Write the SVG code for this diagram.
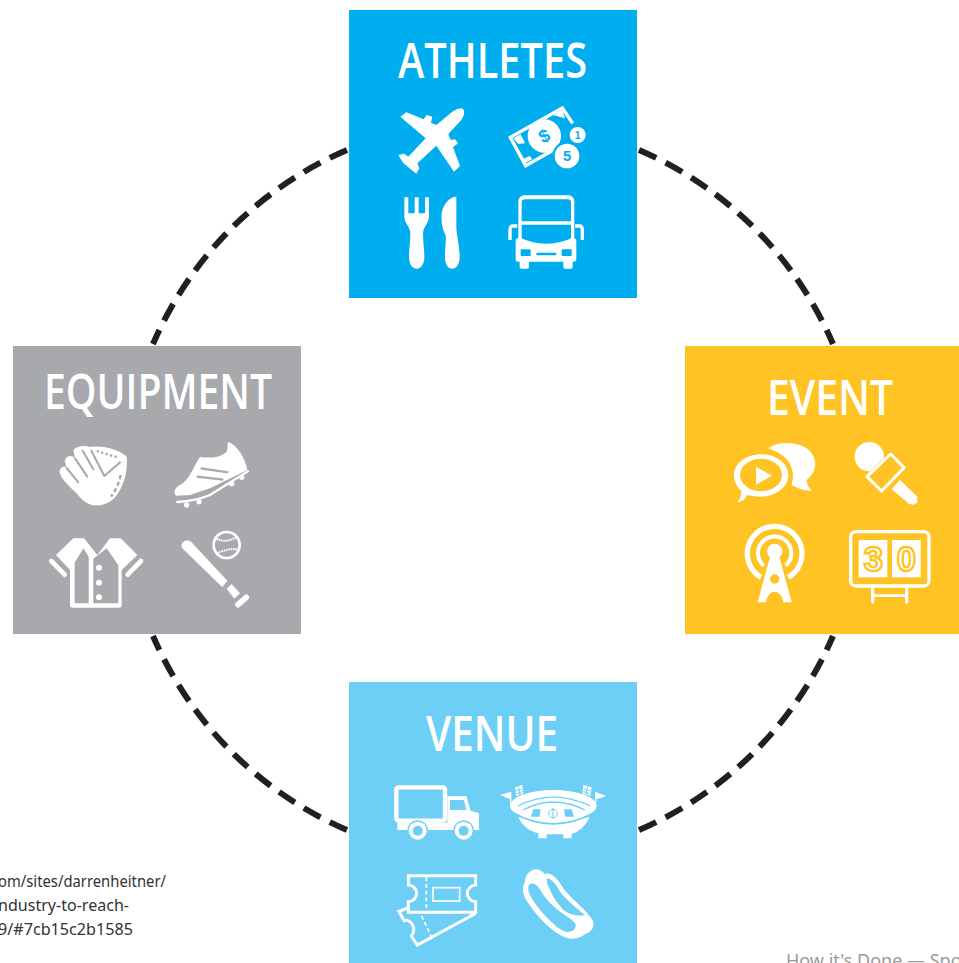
<svg xmlns="http://www.w3.org/2000/svg" width="959" height="963" viewBox="0 0 959 963">
<style>
.t{font-family:"Open Sans","Liberation Sans",sans-serif;font-size:48px;font-weight:600;fill:#fff}
.w{fill:#fff}
.sw{fill:none;stroke:#fff}
.link{fill:none;stroke:#231F20;stroke-width:6;stroke-dasharray:19 10.5}
.note{font-family:"Noto Sans","Liberation Sans",sans-serif;font-size:15.5px;fill:#333}
.b{fill:#00AEEF}.y{fill:#FFC423}.ys{fill:none;stroke:#FFC423}
.g{fill:#A7A9AC}.gs{fill:none;stroke:#A7A9AC}
.l{fill:#6DCFF6}.ls{fill:none;stroke:#6DCFF6}
.d{font-family:"Liberation Sans",sans-serif;font-weight:700;text-anchor:middle}
</style>
<rect width="959" height="963" fill="#fff"/>
<g id="connectors">
<path class="link" d="M347 150A370 370 0 0 0 153 344"/>
<path class="link" d="M639 150A370 370 0 0 1 833 344"/>
<path class="link" d="M639 830A370 370 0 0 0 833 636"/>
<path class="link" d="M347 830A370 370 0 0 1 153 636"/>
</g>
<g id="athletes">
<rect x="349" y="10" width="288" height="288" class="b"/>
<text class="t" x="398" y="78" textLength="189" lengthAdjust="spacingAndGlyphs">ATHLETES</text>
<g transform="translate(349 0) scale(.33333)">
<path class="w" d="M338 325C350 328 347 348 335 362L298 402L305 420L318 418L327 430L312 442L333 498L315 515L262 437L205 490L211 505L202 521L178 502L162 488L148 465L165 461L178 470L230 415L154 350L172 337L224 358L233 345L250 350L246 368L262 375L310 335Q325 325 338 325Z"/>
<path class="sw" stroke-width="10" d="M671 370L640 324L484 412L530 497L640 435"/>
<path class="w" d="M493 415L515 403L528 430L508 432ZM528 490L550 477L542 468L522 477ZM612 345L640 330L648 355Z"/>
<circle class="w" cx="586" cy="408" r="50"/>
<text class="d" style="fill:#00AEEF" font-size="54" x="586" y="426" transform="rotate(-28 586 408)">$</text>
<circle class="b" cx="654" cy="468" r="44"/>
<circle class="w" cx="654" cy="468" r="37"/>
<text class="d" style="fill:#00AEEF" font-size="44" x="654" y="484">5</text>
<circle class="w" cx="686" cy="405" r="24"/>
<text class="d" style="fill:#00AEEF" font-size="32" x="686" y="416">1</text>
<path class="w" d="M166 592H178V640H197V592H209V640H228V592H240V650C240 670 222 680 222 700C222 725 226 750 226 770C226 795 214 806 203 806C192 806 180 795 180 770C180 750 184 725 184 700C184 680 166 670 166 650Z"/>
<path class="w" d="M322 590V680C322 700 332 740 332 770C332 795 320 806 310 806C298 806 288 795 288 770C288 745 292 720 290 705C280 690 276 660 278 640C282 615 300 590 322 590Z"/>
<rect class="w" x="508" y="586" width="168" height="150" rx="18"/>
<rect class="w" x="500" y="715" width="182" height="70" rx="8"/>
<rect class="w" x="512" y="780" width="28" height="26" rx="5"/>
<rect class="w" x="643" y="780" width="28" height="26" rx="5"/>
<path class="b" d="M518 606Q518 598 528 598H656Q666 598 666 606V664H518Z"/>
<path class="b" d="M518 674H666V715Q640 730 592 731Q545 730 518 715Z"/>
<rect class="b" x="515" y="748" width="30" height="20" rx="2"/>
<rect class="b" x="638" y="748" width="30" height="20" rx="2"/>
<rect class="b" x="562" y="758" width="60" height="8" rx="3"/>
<path class="sw" stroke-width="10" d="M505 678H492Q483 678 483 690V720M678 678H691Q700 678 700 690V720"/>
</g>
</g>
<g id="event">
<rect x="685" y="346" width="274" height="288" class="y"/>
<text class="t" x="767" y="415" textLength="126" lengthAdjust="spacingAndGlyphs">EVENT</text>
<g transform="translate(680 340) scale(.33333)">
<path class="w" d="M265 325C300 300 370 305 395 340C415 370 405 400 380 420C380 435 388 445 396 452C375 455 355 445 335 435C345 400 340 350 265 325Z"/>
<path class="w" d="M162 405C162 370 200 343 243 343C288 343 325 370 325 405C325 442 285 470 243 470C225 470 212 466 200 466C195 478 185 486 172 487C180 478 184 468 184 452C170 440 162 424 162 405Z"/>
<ellipse class="y" cx="243" cy="405" rx="63" ry="49"/>
<path class="w" d="M228 380L276 407L228 434Z"/>
<circle class="w" cx="568" cy="350" r="44"/>
<path class="y" d="M632 335L680 383L605 462L552 410Z"/>
<path class="sw" stroke-width="9" stroke-linejoin="round" d="M632 342L672 383L605 453L561 410Z"/>
<path class="w" d="M660 420L712 470L712 488L700 494L688 492L635 448Z"/>
<path class="sw" stroke-width="16" d="M243 712A82 82 0 1 1 325 712"/>
<path class="sw" stroke-width="12" d="M251 677A50 50 0 1 1 317 677"/>
<circle class="w" cx="284" cy="634" r="23"/>
<path class="w" d="M270 650H298L335 787H310C308 770 298 755 284 755C270 755 260 770 258 787H233Z"/>
<circle class="y" cx="284" cy="717" r="14"/>
<rect class="sw" stroke-width="10" x="512" y="575" width="235" height="163" rx="16"/>
<rect class="w" x="536" y="600" width="86" height="112"/>
<rect class="w" x="636" y="600" width="86" height="112"/>
<text class="d w" stroke="#FFC423" stroke-width="7" font-size="104" x="580" y="692">3</text>
<text class="d w" stroke="#FFC423" stroke-width="7" font-size="104" x="679" y="692">0</text>
<path class="sw" stroke-width="10" stroke-linecap="round" d="M578 738V786M680 738V786"/>
<path class="sw" stroke-width="8" d="M578 767H680"/>
</g>
</g>
<g id="equipment">
<rect x="13" y="346" width="288" height="288" class="g"/>
<text class="t" x="44" y="409" textLength="228" lengthAdjust="spacingAndGlyphs">EQUIPMENT</text>
<g transform="translate(10 340) scale(.33333)">
<path class="w" d="M148 395C150 380 165 376 170 384L164 362C170 345 186 345 195 355L190 330C200 318 225 315 240 321C280 315 330 330 350 350C355 400 335 470 290 490C255 505 225 495 200 460C175 435 155 420 148 395Z"/>
<path class="gs" stroke-width="6" stroke-linecap="round" d="M170 384L205 427M195 355L232 410M218 332L250 388"/>
<path class="gs" stroke-width="6" stroke-linejoin="round" d="M243 330L283 408L332 365"/>
<path class="gs" stroke-width="7" stroke-dasharray="7 7" d="M260 333L322 352"/>
<path class="gs" stroke-width="7" stroke-dasharray="13 8" d="M332 405Q325 440 303 470"/>
<path class="w" d="M655 305C680 315 705 350 712 390L600 445L540 465L500 467C488 460 492 445 510 435C540 420 555 370 570 350C590 355 630 355 650 335C655 325 650 315 655 305Z"/>
<path class="gs" stroke-width="7" d="M572 385L655 397M560 410L640 419"/>
<path class="sw" stroke-width="7" stroke-linecap="round" d="M502 486Q560 482 600 465L714 394"/>
<circle class="w" cx="530" cy="495" r="8"/><circle class="w" cx="567" cy="485" r="8"/><circle class="w" cx="665" cy="431" r="8"/><circle class="w" cx="695" cy="412" r="8"/>
<path class="w" d="M190 595H222L262 645L300 595H332L382 645L335 690V795Q335 803 327 803H188Q180 803 180 795V690L138 645Z"/>
<path class="g" d="M194 668L220 625L236 650V790H194Z"/>
<path class="g" d="M250 656L290 625L325 676V790H250Z"/>
<circle class="w" cx="267" cy="683" r="9"/><circle class="w" cx="267" cy="728" r="9"/><circle class="w" cx="267" cy="772" r="9"/>
<path class="sw" stroke-width="14" stroke-linecap="round" d="M124 663L164 704M393 663L353 704"/>
<path class="w" d="M517 625C508 610 525 595 543 605L652 722L637 742Z"/>
<path class="w" d="M650 746L665 732L690 760L673 776Z"/>
<path class="sw" stroke-width="17" stroke-linecap="round" d="M684 794L709 772"/>
<circle class="sw" stroke-width="8" cx="650" cy="615" r="39"/>
<path class="sw" stroke-width="6" stroke-dasharray="5 2" d="M620 597Q650 610 682 590M622 640Q650 625 682 628"/>
</g>
</g>
<g id="venue">
<rect x="349" y="682" width="288" height="281" class="l"/>
<text class="t" x="426" y="751" textLength="132" lengthAdjust="spacingAndGlyphs">VENUE</text>
<g transform="translate(349 680) scale(.33333)">
<rect class="sw" stroke-width="13" x="142" y="322" width="146" height="100" rx="6"/>
<path class="w" d="M145 428H295V348H352L365 392L390 400V450H145Z"/>
<path class="l" d="M303 360H345L352 390H303Z"/>
<circle class="l" cx="206" cy="452" r="31"/><circle class="l" cx="344" cy="452" r="31"/>
<circle class="w" cx="206" cy="452" r="27"/><circle class="w" cx="344" cy="452" r="27"/>
<circle class="l" cx="206" cy="452" r="15"/><circle class="l" cx="344" cy="452" r="15"/>
<path class="w" d="M453 345L487 335V368H483V357ZM772 348L738 335V368H742V358Z"/>
<path class="w" d="M498 322L520 315L523 340L502 348ZM728 322L703 315L700 340L724 348Z"/>
<path class="ls" stroke-width="3" d="M500 333L520 327M503 342L522 334M725 333L705 327M722 342L703 334M508 320L513 344M716 320L711 344"/>
<ellipse class="w" cx="613" cy="377" rx="130" ry="47"/>
<path class="w" d="M508 412C520 440 545 455 568 460V475H593V463H643V475H668V462C690 455 708 440 722 412Z"/>
<path class="ls" stroke-width="5" d="M492 398Q612 465 735 398"/>
<path class="ls" stroke-width="4" d="M506 378Q612 325 724 378"/>
<path class="ls" stroke-width="4" d="M522 390Q612 342 708 390"/>
<path class="l" d="M553 388H575L572 410H546ZM645 388H668L675 410H648Z"/>
<path class="ls" stroke-width="3" d="M612 384V416"/>
<circle class="ls" stroke-width="3" cx="612" cy="401" r="13"/>
<path class="sw" stroke-width="9" d="M178 587H380V615A25 25 0 0 0 380 665V697H178V665A25 25 0 0 0 178 615Z"/>
<path class="sw" stroke-width="9" d="M178 684L150 694L165 722C185 715 205 745 187 768L205 795L380 700"/>
<path class="sw" stroke-width="5" stroke-dasharray="12 8" d="M232 592V695M218 708L246 768"/>
<rect class="sw" stroke-width="5" x="252" y="623" width="80" height="40"/>
<g transform="translate(498 540)">
<path class="w" d="M60 28C75 25 85 38 90 42C110 35 130 60 145 85C165 115 200 135 225 170C245 190 235 215 210 222C195 235 175 238 160 235C120 225 70 175 40 130C25 110 18 85 30 65C30 50 40 32 60 28Z"/>
<path class="l" d="M45 72C60 65 75 85 85 105C100 125 125 150 150 165C170 180 190 190 180 205C170 220 150 220 125 200C90 170 60 135 45 105C38 90 38 78 45 72Z"/>
<path class="l" d="M95 55C110 55 125 75 135 95C155 120 185 145 210 165C190 170 165 165 145 150C130 130 115 115 108 95C100 80 95 70 95 55Z"/>
</g>
</g>
</g>
<g id="notes">
<text class="note" x="-2" y="887" textLength="168" lengthAdjust="spacingAndGlyphs">om/sites/darrenheitner/</text>
<text class="note" x="-2" y="911" textLength="131" lengthAdjust="spacingAndGlyphs">ndustry-to-reach-</text>
<text class="note" x="-2" y="935" textLength="135" lengthAdjust="spacingAndGlyphs">9/#7cb15c2b1585</text>
<text x="786" y="967" font-family="Noto Sans, Liberation Sans, sans-serif" font-size="18" fill="#999">How it's Done — Spo</text>
</g>
</svg>
